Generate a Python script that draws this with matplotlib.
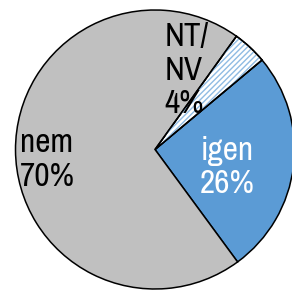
import matplotlib
matplotlib.use("Agg")
import matplotlib.pyplot as plt
from matplotlib.patches import Wedge

plt.rcParams["font.family"] = ["Archivo Narrow", "Liberation Sans", "DejaVu Sans"]

labels = ["igen", "NT/\nNV", "nem"]
values = [26, 4, 70]
colors = ["#5b9bd5", "#ffffff", "#c0c0c0"]
text_colors = ["white", "black", "black"]
# label anchor points, in pie-radius units, and alignment
label_pos = [(0.52, -0.13), (0.07, 0.565), (-0.97, -0.075)]
label_ha = ["center", "left", "left"]

fig = plt.figure(figsize=(2.92, 2.90), dpi=100)
ax = fig.add_axes([0, 0, 1, 1])

wedges, _ = ax.pie(
    values,
    colors=colors,
    startangle=-53.7,
    counterclock=True,
    radius=1,
    wedgeprops={"edgecolor": "black", "linewidth": 1.1},
)

# dotted blue stripes on the small slice
w = wedges[1]
ax.add_patch(Wedge(w.center, w.r, w.theta1, w.theta2, facecolor="none",
                   edgecolor="#8fbbe3", hatch="//////", linewidth=0, zorder=w.get_zorder() + 0.1))
ax.add_patch(Wedge(w.center, w.r, w.theta1, w.theta2, facecolor="none",
                   edgecolor="black", linewidth=1.1, zorder=w.get_zorder() + 0.2))

for lbl, val, (x, y), ha, c in zip(labels, values, label_pos, label_ha, text_colors):
    ax.text(x, y, f"{lbl}\n{val}%", ha=ha, va="center", fontsize=24,
            color=c, linespacing=1.15, multialignment="left" if ha == "left" else "center")

ax.set_xlim(-155 / 139.5, (292 - 155) / 139.5)
ax.set_ylim(-(290 - 149.5) / 139.5, 149.5 / 139.5)
ax.set_aspect("auto")
ax.axis("off")

fig.savefig("out.png", dpi=100)
